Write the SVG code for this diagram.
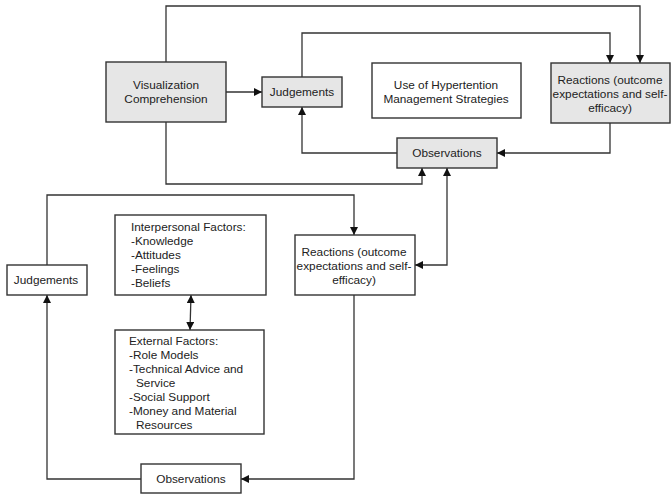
<svg xmlns="http://www.w3.org/2000/svg" width="672" height="497" viewBox="0 0 672 497">
<style>
.box{stroke:#333;stroke-width:1.4;}
.g{fill:#e6e6e6;}
.w{fill:#fff;}
text{font-family:"Liberation Sans",Arial,sans-serif;font-size:11.8px;fill:#222;}
.c{text-anchor:middle;}
.ln{fill:none;stroke:#333;stroke-width:1.3;}
</style>
<defs>
<marker id="ah" viewBox="0 0 10 10" refX="10" refY="5" markerWidth="8" markerHeight="8" markerUnits="userSpaceOnUse" orient="auto-start-reverse">
<path d="M0,0 L10,5 L0,10 z" fill="#111"/>
</marker>
</defs>
<rect width="672" height="497" fill="#fff"/>
<g id="connectors">
<path class="ln" d="M166,62 V6 H640 V63" marker-end="url(#ah)"/>
<path class="ln" d="M302,77 V33 H610 V63" marker-end="url(#ah)"/>
<path class="ln" d="M226,92 H262" marker-end="url(#ah)"/>
<path class="ln" d="M610,123 V153 H497" marker-end="url(#ah)"/>
<path class="ln" d="M397,153 H302 V107" marker-end="url(#ah)"/>
<path class="ln" d="M166,122 V184 H422 V168" marker-end="url(#ah)"/>
<path class="ln" d="M415,265 H447 V168" marker-start="url(#ah)" marker-end="url(#ah)"/>
<path class="ln" d="M47,265 V195 H354 V235" marker-end="url(#ah)"/>
<path class="ln" d="M354,295 V479 H241" marker-end="url(#ah)"/>
<path class="ln" d="M141,479 H47 V295" marker-end="url(#ah)"/>
<path class="ln" d="M191,295 L190,330" marker-start="url(#ah)" marker-end="url(#ah)"/>
</g>
<g id="vis">
<rect class="box g" x="106" y="62" width="120" height="60"/>
<text class="c" x="166" y="89">Visualization</text>
<text class="c" x="166" y="103">Comprehension</text>
</g>
<g id="judgements-top">
<rect class="box g" x="262" y="77" width="80" height="30"/>
<text class="c" x="302" y="96">Judgements</text>
</g>
<g id="use">
<rect class="box w" x="372" y="63" width="149" height="55"/>
<text class="c" x="446" y="89">Use of Hypertention</text>
<text class="c" x="446" y="103">Management Strategies</text>
</g>
<g id="reactions-top">
<rect class="box g" x="551" y="63" width="119" height="60"/>
<text class="c" x="610" y="84">Reactions (outcome</text>
<text class="c" x="610" y="98">expectations and self-</text>
<text class="c" x="610" y="112">efficacy)</text>
</g>
<g id="observations-top">
<rect class="box g" x="397" y="138" width="100" height="30"/>
<text class="c" x="447" y="157">Observations</text>
</g>
<g id="judgements-bottom">
<rect class="box w" x="7" y="265" width="80" height="30"/>
<text class="c" x="46" y="284">Judgements</text>
</g>
<g id="interpersonal">
<rect class="box w" x="115" y="215" width="151" height="80"/>
<text x="131" y="231">Interpersonal Factors:</text>
<text x="131" y="245">-Knowledge</text>
<text x="131" y="259">-Attitudes</text>
<text x="131" y="273">-Feelings</text>
<text x="131" y="287">-Beliefs</text>
</g>
<g id="reactions-bottom">
<rect class="box w" x="295" y="235" width="120" height="60"/>
<text class="c" x="354" y="256">Reactions (outcome</text>
<text class="c" x="354" y="270">expectations and self-</text>
<text class="c" x="354" y="284">efficacy)</text>
</g>
<g id="external">
<rect class="box w" x="115" y="330" width="149" height="104"/>
<text x="129" y="345">External Factors:</text>
<text x="129" y="359">-Role Models</text>
<text x="129" y="373">-Technical Advice and</text>
<text x="136" y="387">Service</text>
<text x="129" y="401">-Social Support</text>
<text x="129" y="415">-Money and Material</text>
<text x="136" y="429">Resources</text>
</g>
<g id="observations-bottom">
<rect class="box w" x="141" y="464" width="100" height="29"/>
<text class="c" x="191" y="483">Observations</text>
</g>
</svg>
